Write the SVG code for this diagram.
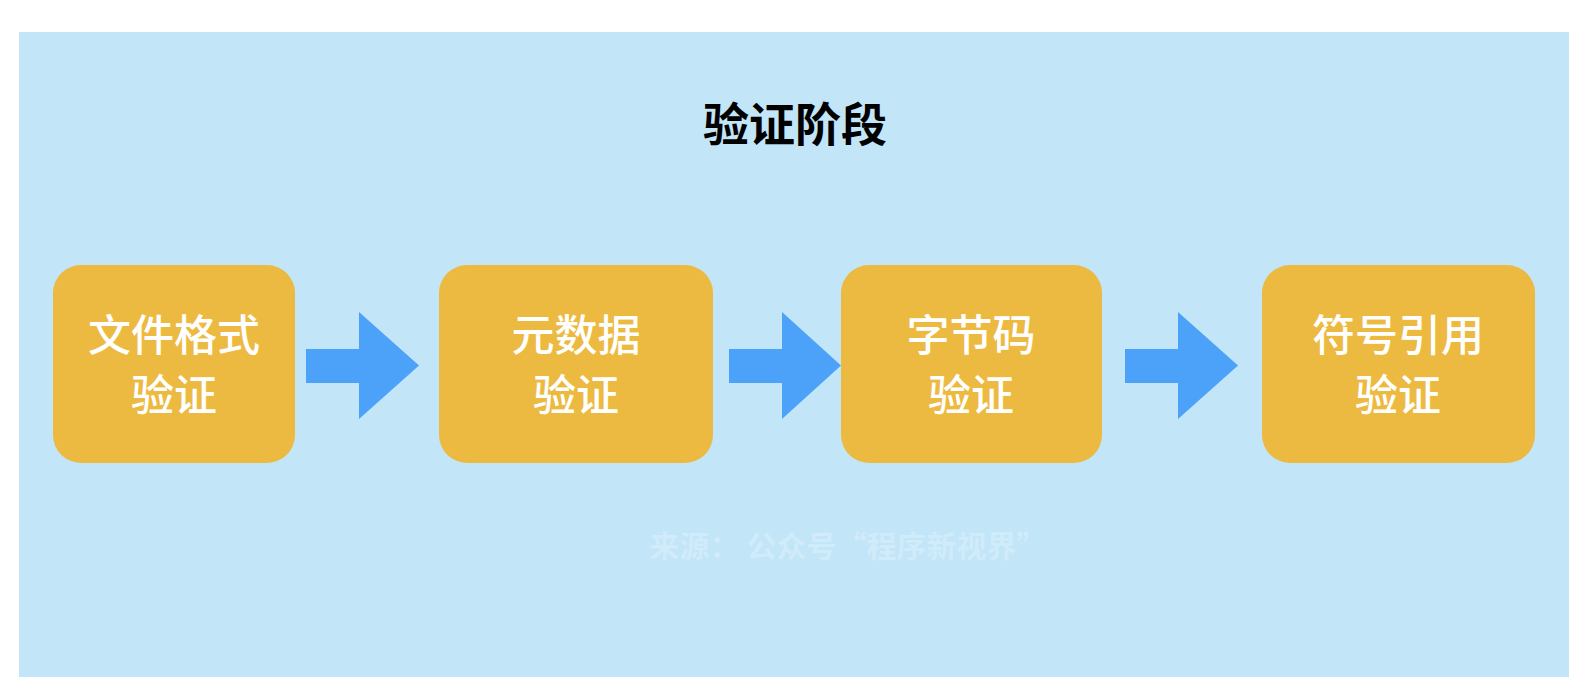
<svg xmlns="http://www.w3.org/2000/svg" width="1584" height="698" viewBox="0 0 1584 698">
<style>
.box{fill:#EDBA41;}
.arrow{fill:#4BA2F8;}
.lbl{font-family:"Noto Sans CJK SC","Noto Sans",sans-serif;font-size:43px;font-weight:500;fill:#FFFFFF;text-anchor:middle;}
.title{font-family:"Noto Sans CJK SC","Noto Sans",sans-serif;font-size:46px;font-weight:bold;fill:#000000;text-anchor:middle;}
.src{font-family:"Noto Sans CJK SC","Noto Sans",sans-serif;font-size:30px;font-weight:bold;fill:#D0EBF9;text-anchor:middle;}
</style>
<rect x="0" y="0" width="1584" height="698" fill="#FFFFFF"/>
<rect x="19" y="32" width="1550" height="645" fill="#C2E5F8"/>
<text class="title" x="795" y="141">验证阶段</text>
<text class="src" x="848" y="557">来源： 公众号“程序新视界”</text>
<g id="connectors">
<polygon class="arrow" points="306,349 359,349 359,312 419,365.5 359,419 359,383 306,383"/>
<polygon class="arrow" points="729,349 782,349 782,312 841,365.5 782,419 782,383 729,383"/>
<polygon class="arrow" points="1125,349 1178,349 1178,312 1238,365.5 1178,419 1178,383 1125,383"/>
</g>
<g id="node1">
<rect class="box" x="53" y="265" width="242" height="198" rx="28"/>
<text class="lbl" x="174" y="351">文件格式</text>
<text class="lbl" x="174" y="411">验证</text>
</g>
<g id="node2">
<rect class="box" x="439" y="265" width="274" height="198" rx="28"/>
<text class="lbl" x="576" y="351">元数据</text>
<text class="lbl" x="576" y="411">验证</text>
</g>
<g id="node3">
<rect class="box" x="841" y="265" width="261" height="198" rx="28"/>
<text class="lbl" x="971" y="351">字节码</text>
<text class="lbl" x="971" y="411">验证</text>
</g>
<g id="node4">
<rect class="box" x="1262" y="265" width="273" height="198" rx="28"/>
<text class="lbl" x="1398" y="351">符号引用</text>
<text class="lbl" x="1398" y="411">验证</text>
</g>
</svg>
